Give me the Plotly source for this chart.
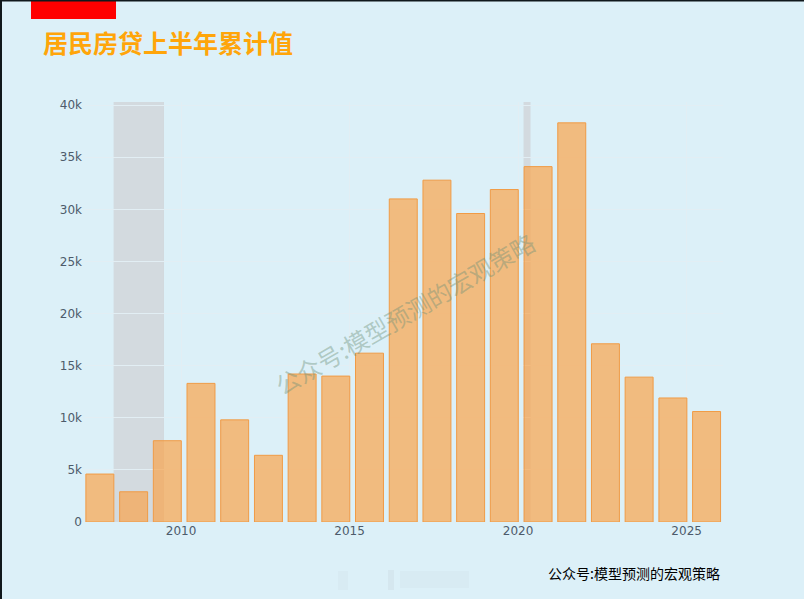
import plotly.graph_objects as go

# 居民房贷上半年累计值 (亿元)
years = list(range(2007, 2026))
values = [4600, 2900, 7800, 13300, 9800, 6400, 14200, 14000, 16200, 31000,
          32800, 29600, 31900, 34100, 38300, 17100, 13900, 11900, 10600]
dates = [f"{y}-08-05" for y in years]

recession_start = ["2008-01-01", "2020-03-01"]
recession_end = ["2009-06-30", "2020-05-15"]

WIDTH, HEIGHT = 804, 599
LEFT, RIGHT, TOP, BOTTOM = 85, 81, 102, 77
BG = "#DCF0F8"
WATERMARK = "公众号:模型预测的宏观策略"
CJK = "Noto Sans CJK SC"


def px_x(x):
    return (x - LEFT) / (WIDTH - LEFT - RIGHT)


def px_y(y):
    return (HEIGHT - BOTTOM - y) / (HEIGHT - TOP - BOTTOM)


def paper_rect(x0, y0, x1, y1, color):
    return dict(type="rect", xref="paper", yref="paper", x0=px_x(x0), x1=px_x(x1),
                y0=px_y(y0), y1=px_y(y1), fillcolor=color, line_width=0, layer="above")


fig = go.Figure(go.Bar(
    x=dates, y=values,
    marker=dict(color="rgba(250,164,76,0.7)", line=dict(color="rgba(240,155,70,1)", width=1)),
))

shapes = [dict(type="rect", xref="x", yref="paper", x0=s, x1=e, y0=0, y1=1,
               fillcolor="rgba(202,196,198,0.5)", line_width=0, layer="below")
          for s, e in zip(recession_start, recession_end)]
shapes += [
    paper_rect(31, 0, 116, 19, "#FF0000"),
    paper_rect(0, 0, 804, 1.5, "#10181C"),
    paper_rect(0, 0, 2, 599, "#10181C"),
    # blurred patch under the chart
    paper_rect(338, 571, 348, 590, "rgba(200,215,222,0.18)"),
    paper_rect(388, 570, 394, 590, "rgba(190,205,212,0.25)"),
    paper_rect(400, 571, 469, 588, "rgba(205,220,228,0.25)"),
]

annotations = [
    dict(text="<b>居民房贷上半年累计值</b>", xref="paper", yref="paper", x=px_x(41), y=px_y(42),
         xanchor="left", yanchor="middle", showarrow=False,
         font=dict(family=CJK, size=25, color="#FFA50A")),
    dict(text=WATERMARK, xref="paper", yref="paper", x=px_x(722), y=px_y(573),
         xanchor="right", yanchor="middle", showarrow=False,
         font=dict(family=CJK, size=14, color="#000000")),
    dict(text=WATERMARK, xref="paper", yref="paper", x=px_x(404), y=px_y(313),
         xanchor="center", yanchor="middle", showarrow=False, textangle=-30,
         font=dict(family=CJK, size=24, color="rgba(110,145,120,0.42)")),
]

fig.update_layout(
    width=WIDTH, height=HEIGHT,
    margin=dict(l=LEFT, r=RIGHT, t=TOP, b=BOTTOM),
    paper_bgcolor=BG, plot_bgcolor=BG,
    font=dict(family="DejaVu Sans", size=12, color="#4D5B6B"),
    bargap=0.17, showlegend=False,
    shapes=shapes, annotations=annotations,
)
fig.update_xaxes(type="date", range=["2007-02-25", "2026-01-30"], dtick="M60", tick0="2010-01-01",
                 tickformat="%Y", gridcolor="#E2EEF4", showline=False, zeroline=False, ticks="")
fig.update_yaxes(range=[0, 40300], dtick=5000, gridcolor="#E2EEF4", zeroline=False, showline=False,
                 ticks="", ticklabelstandoff=2)

fig.write_html("out.html", config={"displayModeBar": False},
               post_script="document.body.style.margin='0';document.body.style.overflow='hidden';")
